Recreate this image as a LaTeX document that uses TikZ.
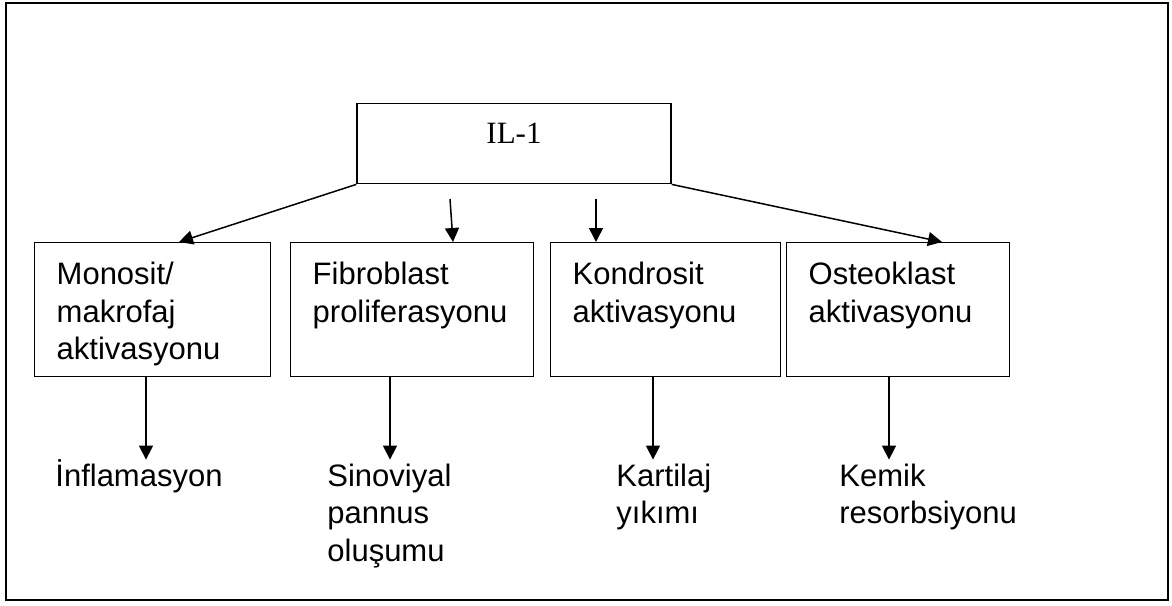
\documentclass[tikz,border=0pt]{standalone}
\usepackage{fontspec}
\setmainfont{Liberation Serif}
\setsansfont{Liberation Sans}
\usetikzlibrary{arrows.meta}

\begin{document}
\begin{tikzpicture}[x=0.5pt,y=-0.5pt,>={Triangle[length=7pt,width=7pt]},
 font=\sffamily\fontsize{15.5}{18.75}\selectfont,
 cell/.style={draw,line width=0.7pt,anchor=north west,align=left,inner xsep=11pt,inner ysep=0pt,text height=21pt,text depth=46pt},
 effect/.style={anchor=base west,align=left,inner sep=0pt,text width=100pt,text height=13pt},
 link/.style={->,line width=0.75pt}]
\useasboundingbox (0,0) rectangle (1172,605);
\draw[line width=0.85pt] (6,3) rectangle (1168,600);
% cytokine
\node[draw,line width=0.7pt,anchor=north,inner sep=0pt,minimum width=157pt,text height=20pt,text depth=20pt,font=\rmfamily\fontsize{15.5}{18.75}\selectfont] (il) at (514,103) {IL-1};
% target cells
\node[cell,text width=96pt] (mono) at (34,242) {Monosit/\\makrofaj\\aktivasyonu};
\node[cell,text width=99.5pt] (fib) at (290,242) {Fibroblast\\proliferasyonu};
\node[cell,text width=93pt] (kon) at (550,242) {Kondrosit\\aktivasyonu};
\node[cell,text width=89.5pt] (ost) at (786,242) {Osteoklast\\aktivasyonu};
% effects
\node[effect] (inf) at (55,486) {İnflamasyon};
\node[effect] (sin) at (327,486) {Sinoviyal\\pannus\\oluşumu};
\node[effect] (kar) at (616,486) {Kartilaj\\yıkımı};
\node[effect] (kem) at (839,486) {Kemik\\resorbsiyonu};
\coordinate (f1) at (450,199);
\coordinate (k1) at (596,199);
\draw[link] (il.south west) -- (mono.north -| 179,0);
\draw[link] (f1) -- (fib.north -| 453,0);
\draw[link] (k1) -- (kon.north -| 596,0);
\draw[link] (il.south east) -- (ost.north -| 942,0);
\draw[link] (mono.south -| 146,0) -- (inf.north -| 146,0);
\draw[link] (fib.south -| 390,0) -- (sin.north -| 390,0);
\draw[link] (kon.south -| 653,0) -- (kar.north -| 653,0);
\draw[link] (ost.south -| 889,0) -- (kem.north -| 889,0);
\end{tikzpicture}
\end{document}
